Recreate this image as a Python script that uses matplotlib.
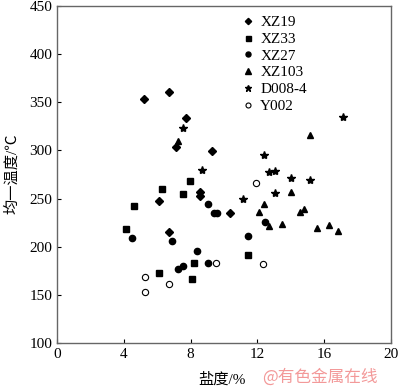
import matplotlib
matplotlib.use("Agg")
from matplotlib import pyplot as plt

plt.rcParams['font.family'] = ['Liberation Serif', 'Noto Sans CJK SC', 'DejaVu Sans']

# 数据：盐度(%) 与 均一温度(℃)
xz19_x = [5.19, 6.69, 7.70, 7.10, 9.29, 8.54, 8.54, 6.09, 6.69, 10.33]
xz19_y = [353, 360.6, 333.6, 303.2, 299.7, 256.5, 253, 247, 215.6, 234.7]

xz33_x = [7.94, 6.29, 7.56, 4.62, 4.14, 8.22, 6.13, 8.10, 11.44]
xz33_y = [268, 260, 254.4, 242.3, 218.4, 183, 172.7, 166.8, 191.4]

xz27_x = [9.06, 9.41, 9.59, 4.48, 6.87, 8.38, 9.06, 7.56, 7.26, 12.48, 11.42]
xz27_y = [244.7, 235.3, 234.7, 208.7, 205.6, 195.8, 182.8, 180.3, 176.8, 226, 211]

xz103_x = [7.24, 15.16, 14.03, 12.38, 12.12, 14.55, 14.78, 12.72, 13.45, 15.54, 16.26, 16.80]
xz103_y = [309.8, 316.3, 256.5, 244.7, 236.3, 236.3, 239.1, 221.8, 223.6, 219.7, 222.9, 216.3]

d008_x = [7.54, 8.66, 17.13, 12.40, 12.68, 13.06, 14.03, 15.16, 13.06, 11.16]
d008_y = [323.6, 279.6, 335, 295.5, 277.6, 278.6, 271.7, 269.3, 256, 249.2]

y002_x = [5.24, 6.69, 5.24, 9.53, 12.34, 11.92]
y002_y = [168.8, 161, 152.6, 182.8, 182, 265.8]

fig = plt.figure(figsize=(4, 3.87), dpi=100)
ax = fig.add_axes([57/400, 1-343/387, 334/400, 337/387])

ms = 4.5
ax.plot(xz19_x, xz19_y, 'D', ms=ms-0.5, color='black', ls='none', label='XZ19')
ax.plot(xz33_x, xz33_y, 's', ms=ms, color='black', ls='none', label='XZ33')
ax.plot(xz27_x, xz27_y, 'o', ms=ms, color='black', ls='none', label='XZ27')
ax.plot(xz103_x, xz103_y, '^', ms=ms+0.5, color='black', ls='none', label='XZ103')
ax.plot(d008_x, d008_y, '*', ms=ms+1.5, color='black', ls='none', label='D008-4')
ax.plot(y002_x, y002_y, 'o', ms=ms, mfc='white', mec='black', mew=0.8, ls='none', label='Y002')

ax.set_xlim(0, 20)
ax.set_ylim(100, 450)
ax.set_xticks([0, 4, 8, 12, 16, 20])
ax.set_yticks(range(100, 451, 50))
ax.tick_params(direction='in', length=3, labelsize=11, colors='black', width=0.8)
for s in ax.spines.values():
    s.set_color('0.4')
    s.set_linewidth(1.0)

leg = ax.legend(loc='upper left', bbox_to_anchor=(0.54, 0.99), frameon=False,
                fontsize=11, handlelength=0.6, handletextpad=0.5,
                labelspacing=0.2, markerscale=0.8, borderaxespad=0)

# 坐标轴标题
fig.text(222/400, 1-380/387, '盐度/%', fontsize=11, ha='center', va='center')
fig.text(12/400, 1-174/387, '均一温度/℃', fontsize=11, ha='center', va='center', rotation=90)

fig.text(262/400, 1-377/387, '@有色金属在线', color='#f08080', fontsize=12,
         va='center', ha='left', alpha=0.8, family=['Noto Sans CJK SC', 'DejaVu Sans'])

plt.savefig('out.png', dpi=100)
